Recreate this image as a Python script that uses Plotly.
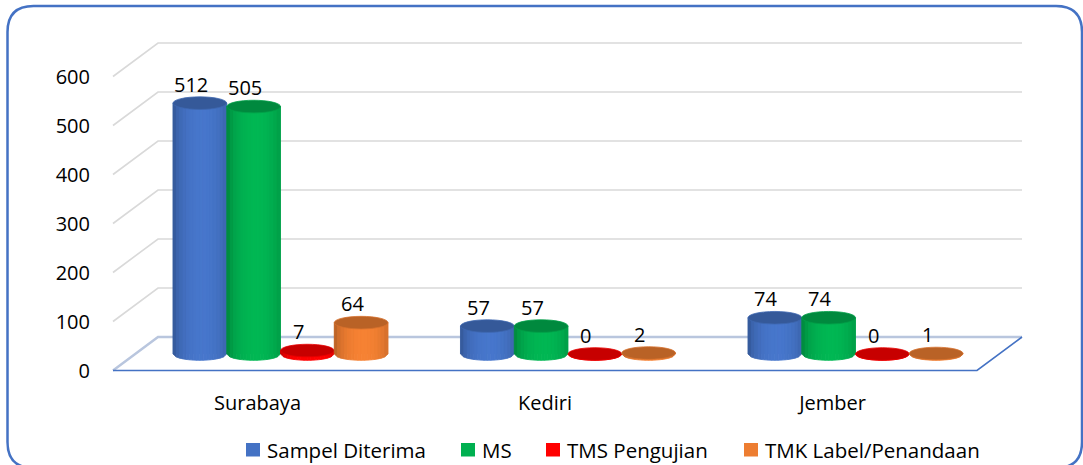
import plotly.graph_objects as go

# ---------------- data ----------------
categories = ["Surabaya", "Kediri", "Jember"]
series_names = ["Sampel Diterima", "MS", "TMS Pengujian", "TMK Label/Penandaan"]
sampel_diterima = [512, 57, 74]
ms = [505, 57, 74]
tms_pengujian = [7, 0, 0]
tmk_label = [64, 2, 1]
y_ticks = [0, 100, 200, 300, 400, 500, 600]

series_values = [sampel_diterima, ms, tms_pengujian, tmk_label]
colors = [(68, 114, 196), (0, 176, 80), (255, 0, 0), (237, 125, 49)]

# ---------------- geometry (pixels) ----------------
W_PX, H_PX = 1083, 465
L, R, T, B = 113, 1022, 30, 375
PW, PH = R - L, B - T
PPU = 0.49                       # pixels per value unit
SPAN = PH / PPU
BAR_ZERO_PX = 354.0               # bar plane
FRONT_ZERO_PX = 370.5             # front plane (tick labels)
DEPTH_PX, DEPTH_DX = 33.5, 45.0
DEPTH_U = DEPTH_PX / PPU
y_lo = -(B - BAR_ZERO_PX) / PPU
y2_lo = -(B - FRONT_ZERO_PX) / PPU
GROUP_PX = 287.5
x_lo = -(280.5 - L) / GROUP_PX
x_hi = x_lo + PW / GROUP_PX
LABEL_SHIFT = 23 / GROUP_PX
BARW = 0.187
ELL_H = 6.3 / PPU
FONT = "Open Sans"


def px(x):
    return (x - L) / PW


def py(y):
    return (B - y) / PH


def shade(c, f):
    return "rgb(%d,%d,%d)" % tuple(max(0, min(255, round(v * f))) for v in c)


fig = go.Figure()

for i, (name, vals) in enumerate(zip(series_names, series_values)):
    fig.add_trace(go.Bar(
        x=list(range(len(categories))), y=vals, name=name,
        marker=dict(color=shade(colors[i], 1.0), line=dict(width=0)),
        showlegend=False, hoverinfo="y",
    ))

# invisible trace that carries the front-plane axes
fig.add_trace(go.Scatter(
    x=list(range(len(categories))), y=[0] * len(categories), xaxis="x2", yaxis="y2",
    mode="markers", marker=dict(opacity=0), showlegend=False, hoverinfo="skip",
))

shapes = []
grid_col = "#D9D9D9"
dx_paper = DEPTH_DX / PW
for v in y_ticks:
    if v == 0:
        continue
    shapes.append(dict(type="path", xref="paper", yref="y2", layer="below",
                       path=f"M 0,{v} L {dx_paper},{v + DEPTH_U} L 1,{v + DEPTH_U}",
                       line=dict(color=grid_col, width=1.6)))
# floor
front_end = 1 - dx_paper
shapes.append(dict(type="path", xref="paper", yref="y2", layer="below",
                   path=f"M 0,0 L {dx_paper},{DEPTH_U} L 1,{DEPTH_U}",
                   line=dict(color="#B9C6DE", width=2.5)))
shapes.append(dict(type="path", xref="paper", yref="y2", layer="below",
                   path=f"M 0,0 L {front_end},0 L 1,{DEPTH_U}",
                   line=dict(color="#4472C4", width=1.6)))

# cylinder shading + caps
NSTRIP = 16
annotations = []
for i, vals in enumerate(series_values):
    for j, v in enumerate(vals):
        xc = j + (i - 1.5) * BARW
        half = BARW / 2
        for k in range(NSTRIP):
            u0 = -1 + 2 * k / NSTRIP
            u1 = -1 + 2 * (k + 1) / NSTRIP
            um = (u0 + u1) / 2
            f = 0.68 + 0.36 * max(0.0, 1 - ((um - 0.1) / 1.1) ** 2) ** 0.5
            col = shade(colors[i], f)
            xa, xb = xc + u0 * half, xc + u1 * half
            ya = -ELL_H * max(0.0, 1 - u0 ** 2) ** 0.5
            yb = -ELL_H * max(0.0, 1 - u1 ** 2) ** 0.5
            shapes.append(dict(type="path", xref="x", yref="y", layer="above",
                               path=f"M {xa},{v} L {xb},{v} L {xb},{yb} L {xa},{ya} Z",
                               fillcolor=col, line=dict(color=col, width=0.8)))
        shapes.append(dict(type="circle", xref="x", yref="y", layer="above",
                           x0=xc - half, x1=xc + half, y0=v - ELL_H, y1=v + ELL_H,
                           fillcolor=shade(colors[i], 0.78),
                           line=dict(color=shade(colors[i], 0.9), width=0.8)))
        annotations.append(dict(x=xc, y=v, xref="x", yref="y", text=str(v),
                                showarrow=False, yshift=19, xshift=-9,
                                yanchor="middle", xanchor="center",
                                font=dict(family=FONT, size=20, color="#000000")))

# manual legend
legend_sq_x = [246, 461, 546, 744]
LEG_Y0, LEG_Y1 = 443, 456.5
for i, name in enumerate(series_names):
    x0 = legend_sq_x[i]
    shapes.append(dict(type="rect", xref="paper", yref="paper",
                       x0=px(x0), x1=px(x0 + 14), y0=py(LEG_Y1), y1=py(LEG_Y0),
                       fillcolor=shade(colors[i], 1.0), line=dict(width=0)))
    annotations.append(dict(x=px(x0 + 19), y=py(449.5), xref="paper", yref="paper",
                            text=name, showarrow=False, xanchor="left", yanchor="middle",
                            font=dict(family=FONT, size=20.5, color="#000000")))

# rounded border
bl, br, bt, bb, r = 7.5, 1082, 6, 468, 26
border = (f"M {px(bl + r)},{py(bt)} L {px(br - r)},{py(bt)} "
          f"Q {px(br)},{py(bt)} {px(br)},{py(bt + r)} L {px(br)},{py(bb - r)} "
          f"Q {px(br)},{py(bb)} {px(br - r)},{py(bb)} L {px(bl + r)},{py(bb)} "
          f"Q {px(bl)},{py(bb)} {px(bl)},{py(bb - r)} L {px(bl)},{py(bt + r)} "
          f"Q {px(bl)},{py(bt)} {px(bl + r)},{py(bt)} Z")
shapes.append(dict(type="path", xref="paper", yref="paper", path=border,
                   line=dict(color="#4472C4", width=2.5)))

fig.update_layout(
    width=W_PX, height=H_PX,
    margin=dict(l=L, r=W_PX - R, t=T, b=H_PX - B, pad=0),
    paper_bgcolor="white", plot_bgcolor="white",
    barmode="group", bargap=1 - 4 * BARW, bargroupgap=0,
    font=dict(family=FONT, size=20, color="#000000"),
    showlegend=False,
    xaxis=dict(range=[x_lo, x_hi], visible=False, fixedrange=True),
    yaxis=dict(range=[y_lo, y_lo + SPAN], visible=False, fixedrange=True),
    xaxis2=dict(range=[x_lo + LABEL_SHIFT, x_hi + LABEL_SHIFT], overlaying="x",
                tickvals=list(range(len(categories))), ticktext=categories,
                showgrid=False, zeroline=False, showline=False, fixedrange=True,
                ticks="outside", ticklen=10, tickcolor="rgba(0,0,0,0)",
                tickfont=dict(family=FONT, size=20, color="#000000")),
    yaxis2=dict(range=[y2_lo, y2_lo + SPAN], overlaying="y", side="left",
                tickvals=y_ticks, showgrid=False, zeroline=False, showline=False,
                fixedrange=True,
                ticks="outside", ticklen=18, tickcolor="rgba(0,0,0,0)",
                tickfont=dict(family=FONT, size=20, color="#000000")),
    shapes=shapes,
    annotations=annotations,
)

fig.write_html("out.html", config={"displayModeBar": False},
               post_script="document.body.style.margin='0px';")
